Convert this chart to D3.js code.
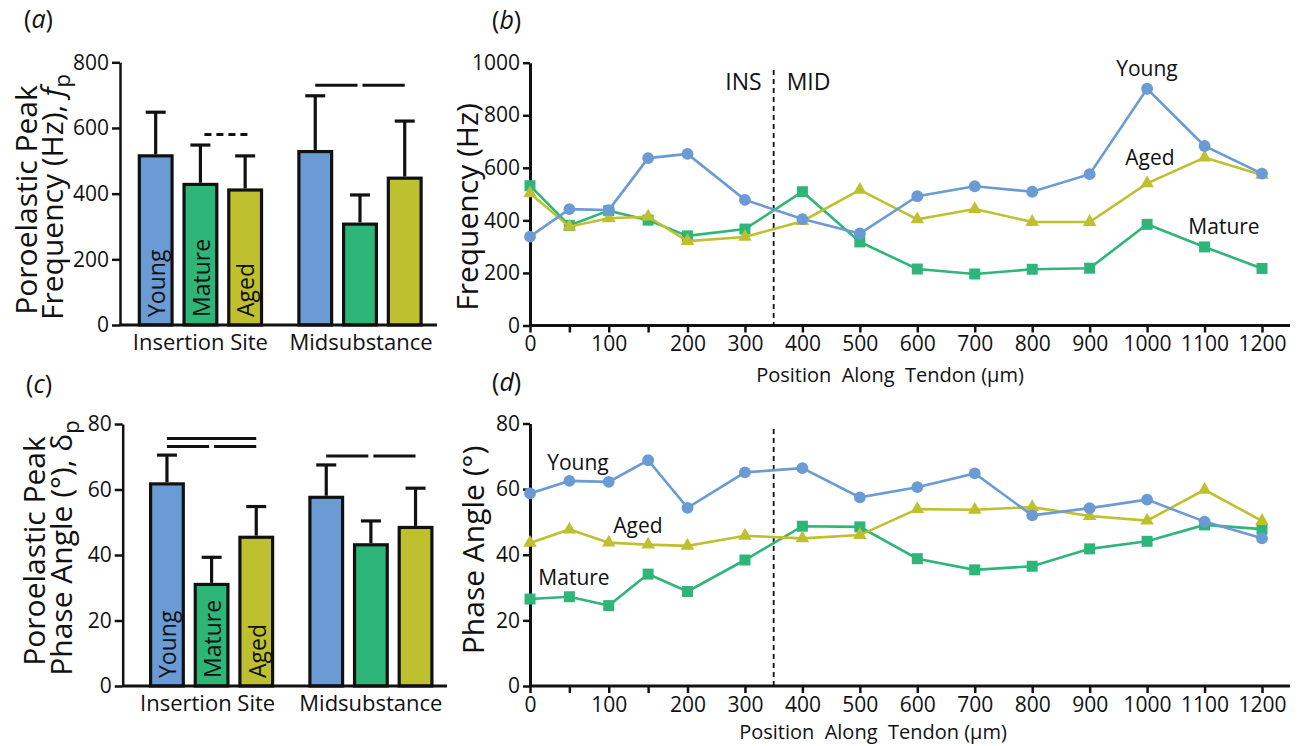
<!DOCTYPE html>
<html><head><meta charset="utf-8">
<script src="https://cdn.jsdelivr.net/npm/d3@7"></script>
<style>
body{margin:0;background:#fff}
text{font-family:"Open Sans","Noto Sans",sans-serif;fill:#111}
</style>
</head><body>
<svg id="chart" width="1299" height="746"></svg>
<script>
// ---------- DATA ----------
const groups = ["Insertion Site", "Midsubstance"];
const ages = ["Young", "Mature", "Aged"];
const colors = ["#6a9bd4", "#2eb678", "#bfc02f"];

// Panel (a): poroelastic peak frequency (Hz), mean and SD per group [Young, Mature, Aged]
const freqMeanIS = [520, 433, 416];
const freqMeanMID = [533, 312, 452];
const freqSdIS = [128, 115, 99];
const freqSdMID = [165, 84, 169];
const freqTicks = [0, 200, 400, 600, 800];

// Panel (c): poroelastic peak phase angle (deg)
const angleMeanIS = [62.2, 31.5, 45.9];
const angleMeanMID = [58.1, 43.6, 48.9];
const angleSdIS = [8.3, 7.8, 8.9];
const angleSdMID = [9.4, 6.8, 11.5];
const angleTicks = [0, 20, 40, 60, 80];

// significance bars
const freqSig = [
  {group: "Insertion Site", from: "Mature", to: "Aged", value: 580, dashed: true},
  {group: "Midsubstance", from: "Young", to: "Mature", value: 730},
  {group: "Midsubstance", from: "Mature", to: "Aged", value: 730}
];
const angleSig = [
  {group: "Insertion Site", from: "Young", to: "Aged", value: 75.6},
  {group: "Insertion Site", from: "Young", to: "Mature", value: 73.1},
  {group: "Insertion Site", from: "Mature", to: "Aged", value: 73.1},
  {group: "Midsubstance", from: "Young", to: "Mature", value: 70.2},
  {group: "Midsubstance", from: "Mature", to: "Aged", value: 70.2}
];

// Panels (b), (d): along-tendon profiles
const positions = [0, 50, 100, 150, 200, 300, 400, 500, 600, 700, 800, 900, 1000, 1100, 1200];
const xTickLabels = [0, 100, 200, 300, 400, 500, 600, 700, 800, 900, 1000, 1100, 1200];
const boundary = 350;
const freqYoung  = [338, 443, 439, 637, 653, 478, 405, 350, 492, 530, 509, 576, 901, 683, 578];
const freqMature = [532, 381, 437, 401, 341, 367, 509, 318, 215, 196, 214, 218, 385, 299, 217];
const freqAged   = [503, 376, 408, 414, 321, 337, 397, 516, 404, 443, 394, 394, 541, 639, 573];
const angleYoung  = [58.7, 62.5, 62.2, 68.8, 54.3, 65.1, 66.4, 57.5, 60.6, 64.8, 52.0, 54.2, 56.8, 50.1, 45.0];
const angleMature = [26.5, 27.2, 24.5, 34.1, 28.8, 38.4, 48.7, 48.5, 38.8, 35.4, 36.5, 41.8, 44.1, 49.1, 47.8];
const angleAged   = [43.6, 47.7, 43.7, 43.1, 42.7, 45.8, 45.0, 46.0, 53.9, 53.7, 54.5, 51.8, 50.4, 59.8, 50.3];
const lineTicksFreq = [0, 200, 400, 600, 800, 1000];
const lineTicksAngle = [0, 20, 40, 60, 80];

// ---------- DRAW ----------
const svg = d3.select("#chart");
const AX = 2.5;
const fmt = d3.format("d");

function styleAxis(g) {
  g.selectAll("path,line").attr("stroke", "#111").attr("stroke-width", AX);
  g.selectAll("text").attr("font-size", 21).attr("fill", "#111")
    .attr("font-family", "'Open Sans','Noto Sans',sans-serif");
}

function panelLabel(x, y, letter) {
  const t = svg.append("text").attr("x", x).attr("y", y).attr("font-size", 25);
  t.append("tspan").text("(");
  t.append("tspan").attr("font-style", "italic").text(letter);
  t.append("tspan").text(")");
}

function barPanel(o) {
  const y = d3.scaleLinear().domain([o.yTicks[0], o.yTicks[o.yTicks.length - 1]]).range(o.yRange);
  const x0 = d3.scaleBand().domain(groups).range(o.xRange).paddingInner(0.214).paddingOuter(0);
  const x1 = d3.scaleBand().domain(ages).range([0, x0.bandwidth()]).paddingInner(0.196).paddingOuter(0);
  const bw = x1.bandwidth();
  const cx = (g, a) => x0(g) + x1(a) + bw / 2;
  const g = svg.append("g");
  const rows = [];
  groups.forEach((gr, gi) => ages.forEach((a, ai) => rows.push({g: gr, a, ai, m: o.means[gi][ai], s: o.sds[gi][ai]})));

  // error bars
  const eb = g.append("g").attr("stroke", "#111").attr("stroke-width", 3.2);
  rows.forEach(r => {
    const c = cx(r.g, r.a);
    eb.append("line").attr("x1", c).attr("x2", c).attr("y1", y(r.m)).attr("y2", y(r.m + r.s));
    eb.append("line").attr("x1", c - 10).attr("x2", c + 10).attr("y1", y(r.m + r.s)).attr("y2", y(r.m + r.s));
  });
  // bars
  g.append("g").selectAll("rect").data(rows).join("rect")
    .attr("x", d => x0(d.g) + x1(d.a) + 1.6)
    .attr("width", bw - 3.2)
    .attr("y", d => y(d.m) + 1.6)
    .attr("height", d => y(0) - y(d.m) - 1.6)
    .attr("fill", d => colors[d.ai])
    .attr("stroke", "#111").attr("stroke-width", 3.2);
  // bar labels in first group
  ages.forEach(a => {
    g.append("text")
      .attr("transform", `translate(${cx(groups[0], a) + 1},${y(0) - 8}) rotate(-90)`)
      .attr("dy", "0.36em").attr("font-size", 23).attr("fill", "#222").text(a);
  });
  // significance lines
  o.sig.forEach(s => {
    let xa = cx(s.group, s.from), xb = cx(s.group, s.to);
    if (s.from === "Mature") xa += 2.5;
    if (s.to === "Mature") xb -= 2.5;
    if (s.dashed) { xa += 1.5; xb += 6; }
    g.append("line").attr("x1", xa).attr("x2", xb).attr("y1", y(s.value)).attr("y2", y(s.value))
      .attr("stroke", "#111").attr("stroke-width", 3)
      .attr("stroke-dasharray", s.dashed ? "7,5" : null);
  });
  // axes
  const ya = g.append("g").attr("transform", `translate(${o.axisX},0)`)
    .call(d3.axisLeft(y).tickValues(o.yTicks).tickFormat(fmt).tickSize(8).tickSizeOuter(0).tickPadding(3));
  styleAxis(ya);
  g.append("line").attr("x1", o.axisX).attr("x2", o.xEnd).attr("y1", y(0)).attr("y2", y(0))
    .attr("stroke", "#111").attr("stroke-width", 3);
  groups.forEach(gr => {
    g.append("text").attr("x", x0(gr) + x0.bandwidth() / 2 + o.catDx[groups.indexOf(gr)])
      .attr("y", y(0) + 25).attr("text-anchor", "middle").attr("font-size", 22).text(gr);
  });
  // y title
  g.append("text").attr("transform", `translate(${o.t1x},${o.tcy}) rotate(-90)`)
    .attr("text-anchor", "middle").attr("font-size", 30).text("Poroelastic Peak");
  const t2 = g.append("text").attr("transform", `translate(${o.t2x},${o.tcy - 3}) rotate(-90)`)
    .attr("text-anchor", "middle").attr("font-size", 30);
  t2.append("tspan").text(o.title2);
  t2.append("tspan").attr("font-style", o.symItalic ? "italic" : "normal").text(o.sym);
  t2.append("tspan").attr("font-size", 22).attr("dy", 7).text("p");
}

barPanel({
  xRange: [137.7, 422.7], yRange: [325, 62.3], yTicks: freqTicks, axisX: 120, xEnd: 437,
  means: [freqMeanIS, freqMeanMID], sds: [freqSdIS, freqSdMID], sig: freqSig,
  catDx: [0, 1], t1x: 37, t2x: 63, tcy: 200,
  title2: "Frequency (Hz), ", sym: "f", symItalic: true
});
barPanel({
  xRange: [149, 433.5], yRange: [686, 424], yTicks: angleTicks, axisX: 122.7, xEnd: 447,
  means: [angleMeanIS, angleMeanMID], sds: [angleSdIS, angleSdMID], sig: angleSig,
  catDx: [-4, 0], t1x: 45, t2x: 72, tcy: 551,
  title2: "Phase Angle (°), ", sym: "δ", symItalic: false
});

function linePanel(o) {
  const x = d3.scaleLinear().domain([0, 200, 1200]).range([530, 687.5, 1262]);
  const y = d3.scaleLinear().domain([o.yTicks[0], o.yTicks[o.yTicks.length - 1]]).range(o.yRange);
  const g = svg.append("g");
  // boundary dashed line
  g.append("line").attr("x1", x(boundary)).attr("x2", x(boundary))
    .attr("y1", o.dashTop).attr("y2", y(0))
    .attr("stroke", "#111").attr("stroke-width", 1.8).attr("stroke-dasharray", "5,4");
  // axes
  const xa = g.append("g").attr("transform", `translate(0,${y(0)})`)
    .call(d3.axisBottom(x).tickValues(positions).tickSize(7).tickSizeOuter(0).tickPadding(4)
      .tickFormat(d => xTickLabels.includes(d) ? fmt(d) : ""));
  xa.select(".domain").remove();
  styleAxis(xa);
  g.append("line").attr("x1", x(0)).attr("x2", 1290).attr("y1", y(0)).attr("y2", y(0))
    .attr("stroke", "#111").attr("stroke-width", 3);
  const ya = g.append("g").attr("transform", `translate(${x(0)},0)`)
    .call(d3.axisLeft(y).tickValues(o.yTicks).tickFormat(fmt).tickSize(7).tickSizeOuter(0).tickPadding(3));
  styleAxis(ya);
  ya.select(".domain").attr("stroke-width", 3);

  const line = d3.line().x((d, i) => x(positions[i])).y(d => y(d));
  const series = [
    {v: o.mature, c: colors[1], sym: d3.symbolSquare, size: 121},
    {v: o.aged, c: colors[2], sym: d3.symbolTriangle, size: 80},
    {v: o.young, c: colors[0], sym: d3.symbolCircle, size: 110}
  ];
  series.forEach(s => {
    g.append("path").datum(s.v).attr("d", line).attr("fill", "none")
      .attr("stroke", s.c).attr("stroke-width", 2.6);
    g.append("g").selectAll("path").data(s.v).join("path")
      .attr("transform", (d, i) => `translate(${x(positions[i])},${y(d)})`)
      .attr("d", d3.symbol().type(s.sym).size(s.size)).attr("fill", s.c);
  });
  // y title
  g.append("text").attr("transform", `translate(${o.tx},${o.tcy}) rotate(-90)`)
    .attr("text-anchor", "middle").attr("font-size", 30).text(o.title);
  // x title
  g.append("text").attr("x", o.xtX).attr("y", o.xtY).attr("text-anchor", "middle")
    .attr("font-size", 20).attr("xml:space", "preserve").style("white-space", "pre")
    .text("Position  Along  Tendon (μm)");
  // series labels
  o.labels.forEach(l => {
    g.append("text").attr("x", l[1]).attr("y", l[2]).attr("text-anchor", "middle")
      .attr("dy", "0.35em").attr("font-size", 21).text(l[0]);
  });
  return {x, y, g};
}

const pb = linePanel({
  yTicks: lineTicksFreq, yRange: [325.5, 62.7], young: freqYoung, mature: freqMature, aged: freqAged,
  dashTop: 70, tx: 478, tcy: 207, title: "Frequency (Hz)", xtX: 890, xtY: 382,
  labels: [["Young", 1147, 69], ["Aged", 1150, 158], ["Mature", 1224, 227]]
});
pb.g.append("text").attr("x", pb.x(boundary) - 12).attr("y", 90).attr("text-anchor", "end")
  .attr("font-size", 23).text("INS");
pb.g.append("text").attr("x", pb.x(boundary) + 13).attr("y", 90).attr("text-anchor", "start")
  .attr("font-size", 23).text("MID");

linePanel({
  yTicks: lineTicksAngle, yRange: [686, 423.5], young: angleYoung, mature: angleMature, aged: angleAged,
  dashTop: 429, tx: 484, tcy: 550, title: "Phase Angle (°)", xtX: 873, xtY: 739,
  labels: [["Young", 578, 463], ["Aged", 638, 526], ["Mature", 574, 578]]
});

panelLabel(24, 28, "a");
panelLabel(492, 29, "b");
panelLabel(26, 393, "c");
panelLabel(492, 391, "d");
</script>
</body></html>
